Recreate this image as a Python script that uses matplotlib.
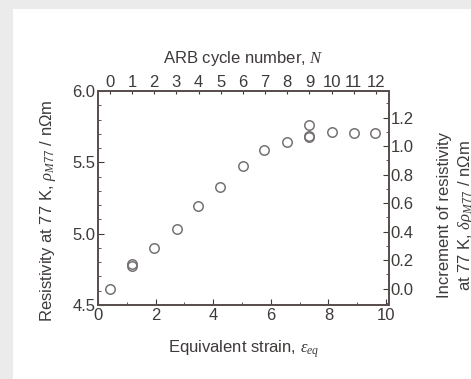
import numpy as np
import matplotlib.pyplot as plt
from matplotlib.patches import Rectangle
from matplotlib.ticker import MultipleLocator

plt.rcParams['font.family'] = ['Liberation Sans', 'DejaVu Sans']
plt.rcParams['mathtext.fontset'] = 'custom'
plt.rcParams['mathtext.it'] = 'Liberation Serif:italic'
plt.rcParams['mathtext.rm'] = 'Liberation Sans'

# data
cycle_n  = [0, 1, 2, 3, 4, 5, 6, 7, 8, 9, 10, 11, 12]
strain   = [0.41, 1.18, 1.93, 2.73, 3.48, 4.25, 5.02, 5.77, 6.57, 7.33, 7.33, 8.11, 8.87, 9.63, 1.18, 7.33]
rho_m77  = [4.614, 4.776, 4.902, 5.035, 5.194, 5.329, 5.474, 5.584, 5.642, 5.764, 5.675, 5.713, 5.704, 5.708, 4.790, 5.688]
top_pos  = [0.41, 1.18, 1.95, 2.72, 3.49, 4.26, 5.03, 5.80, 6.57, 7.34, 8.11, 8.88, 9.65]
rho_zero = 4.614

tc = '#3f3a3a'
ec = '#777272'
fs = 12

fig = plt.figure(figsize=(4.71, 3.79), dpi=100, facecolor='#ebebeb')
fig.add_artist(Rectangle((13/471, 0), 1, 1 - 9/379, transform=fig.transFigure,
                         facecolor='white', edgecolor='none', zorder=-10))

ax = fig.add_axes([98/471, 74/379, 291/471, 214/379])
ax.set_facecolor('white')
ax.plot(strain, rho_m77, ls='none', marker='o', ms=6.8, mfc='none', mec=ec, mew=1.1)

ax.set_xlim(0, 10.1)
ax.set_ylim(4.5, 6.0)
ax.xaxis.set_major_locator(MultipleLocator(2))
ax.xaxis.set_minor_locator(MultipleLocator(1))
ax.yaxis.set_major_locator(MultipleLocator(0.5))
ax.yaxis.set_minor_locator(MultipleLocator(0.1))
ax.set_yticks([4.5, 5.0, 5.5, 6.0], ['4.5', '5.0', '5.5', '6.0'])
ax.tick_params(which='both', direction='in', colors=tc, labelsize=fs, top=False, right=False)
ax.tick_params(which='major', length=4, pad=2)
ax.tick_params(which='minor', length=2)
for s in ax.spines.values():
    s.set_color('#5a5050')
    s.set_linewidth(1.3)
ax.set_xlabel('Equivalent strain, $\\varepsilon_{eq}$', color=tc, fontsize=fs, labelpad=11)
ax.set_ylabel('Resistivity at 77 K, $\\rho_{M77}$ / n$\\Omega$m', color=tc, fontsize=fs, labelpad=10)
ax.yaxis.label.set_y(0.44)

# top axis: ARB cycle number
axt = ax.twiny()
axt.set_xlim(ax.get_xlim())
axt.set_xticks(top_pos, [str(n) for n in cycle_n])
axt.tick_params(direction='in', length=2.5, colors=tc, labelsize=fs, pad=1)
axt.set_xlabel('ARB cycle number, $N$', color=tc, fontsize=fs, labelpad=8)

# right axis: increment of resistivity
axr = ax.twinx()
axr.set_ylim(4.5 - rho_zero, 6.0 - rho_zero)
axr.yaxis.set_major_locator(MultipleLocator(0.2))
axr.yaxis.set_minor_locator(MultipleLocator(0.1))
axr.set_yticks(np.arange(0, 1.3, 0.2), ['%.1f' % v for v in np.arange(0, 1.3, 0.2)])
axr.tick_params(which='both', direction='in', colors=tc, labelsize=fs, pad=1)
axr.tick_params(which='major', length=4)
axr.tick_params(which='minor', length=2)
for a in (axt, axr):
    for s in a.spines.values():
        s.set_color('#5a5050')
        s.set_linewidth(1.3)
axr.set_ylabel('Increment of resistivity\nat 77 K, $\\delta\\rho_{M77}$ / n$\\Omega$m',
               color=tc, fontsize=fs, labelpad=17, linespacing=1.28)
axr.yaxis.label.set_y(0.42)

fig.savefig('out.png', dpi=100, facecolor=fig.get_facecolor())
